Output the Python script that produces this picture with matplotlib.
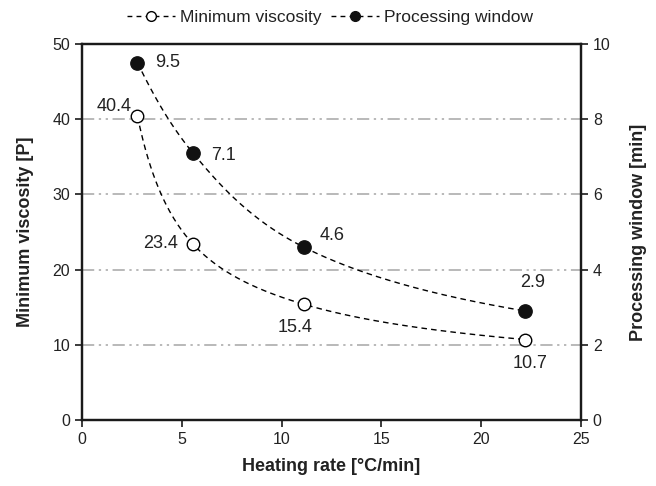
import numpy as np
import matplotlib
matplotlib.use("Agg")
import matplotlib.pyplot as plt
from matplotlib.lines import Line2D

plt.rcParams['font.family'] = ['Liberation Sans', 'DejaVu Sans']

heating_rate = [2.78, 5.56, 11.1, 22.2]
min_viscosity = [40.4, 23.4, 15.4, 10.7]
proc_window = [9.5, 7.1, 4.6, 2.9]
visc_labels = ["40.4", "23.4", "15.4", "10.7"]
window_labels = ["9.5", "7.1", "4.6", "2.9"]


def pchip(x, y, xs):
    """Monotone piecewise cubic Hermite interpolation."""
    x = np.asarray(x, float)
    y = np.asarray(y, float)
    h = np.diff(x)
    d = np.diff(y) / h
    n = len(x)
    m = np.zeros(n)
    for k in range(1, n - 1):
        if d[k - 1] * d[k] > 0:
            w1 = 2 * h[k] + h[k - 1]
            w2 = h[k] + 2 * h[k - 1]
            m[k] = (w1 + w2) / (w1 / d[k - 1] + w2 / d[k])
    m[0] = ((2 * h[0] + h[1]) * d[0] - h[0] * d[1]) / (h[0] + h[1])
    if np.sign(m[0]) != np.sign(d[0]):
        m[0] = 0
    m[-1] = ((2 * h[-1] + h[-2]) * d[-1] - h[-1] * d[-2]) / (h[-1] + h[-2])
    if np.sign(m[-1]) != np.sign(d[-1]):
        m[-1] = 0
    out = np.empty_like(xs)
    for i, xv in enumerate(xs):
        k = min(np.searchsorted(x, xv, side='right') - 1, n - 2)
        k = max(k, 0)
        t = (xv - x[k]) / h[k]
        h00 = 2 * t**3 - 3 * t**2 + 1
        h10 = t**3 - 2 * t**2 + t
        h01 = -2 * t**3 + 3 * t**2
        h11 = t**3 - t**2
        out[i] = h00 * y[k] + h10 * h[k] * m[k] + h01 * y[k + 1] + h11 * h[k] * m[k + 1]
    return out


fig = plt.figure(figsize=(6.56, 4.86), dpi=100)
ax = fig.add_axes([0.125, 0.1358, 0.7607, 0.7737])
ax2 = ax.twinx()

xs = np.linspace(heating_rate[0], heating_rate[-1], 300)
lx = np.log(heating_rate)
visc_curve = np.exp(pchip(lx, np.log(min_viscosity), np.log(xs)))
win_curve = np.exp(pchip(lx, np.log(proc_window), np.log(xs)))

grid_style = dict(color='#a6a6a6', lw=1.1, dashes=(8, 3, 1.5, 3, 1.5, 3))
for yv in [10, 20, 30, 40]:
    ax.axhline(yv, zorder=0, **grid_style)

ax.plot(xs, visc_curve, color='black', lw=1.0, dashes=(4, 3), zorder=2)
ax.plot(heating_rate, min_viscosity, 'o', ms=9, mfc='white', mec='black',
        mew=1.0, zorder=3)
ax2.plot(xs, win_curve, color='black', lw=1.0, dashes=(4, 3), zorder=2)
ax2.plot(heating_rate, proc_window, 'o', ms=9.6, mfc='#111111', mec='#111111',
         zorder=3)

ax.set_xlim(0, 25)
ax.set_ylim(0, 50)
ax2.set_ylim(0, 10)
ax.set_xticks([0, 5, 10, 15, 20, 25])
ax.set_yticks([0, 10, 20, 30, 40, 50])
ax2.set_yticks([0, 2, 4, 6, 8, 10])

for a in (ax, ax2):
    for s in a.spines.values():
        s.set_linewidth(1.6)
        s.set_color('#1a1a1a')
    a.tick_params(direction='out', length=5, width=1.2, labelsize=11.5,
                  colors='#1a1a1a', labelcolor='#222222')

ax.set_xlabel('Heating rate [°C/min]', fontsize=13, fontweight='bold',
              color='#222222', labelpad=8)
ax.set_ylabel('Minimum viscosity [P]', fontsize=13, fontweight='bold',
              color='#222222', labelpad=13)
ax2.set_ylabel('Processing window [min]', fontsize=13, fontweight='bold',
               color='#222222', labelpad=14)

# value labels for minimum viscosity (offsets in pixels)
visc_offsets = [(-6, 10, 'right'), (-15, 1, 'right'),
                (-8.5, -23, 'center'), (5, -24, 'center')]
for x, y, t, (dx, dy, ha) in zip(heating_rate, min_viscosity, visc_labels,
                                 visc_offsets):
    ax.annotate(t, (x, y), xytext=(dx, dy), textcoords='offset pixels',
                ha=ha, va='center', fontsize=13, color='#222222')

# value labels for processing window
win_offsets = [(18, 0, 'left'), (18, -2, 'left'),
               (16, 12, 'left'), (7, 28, 'center')]
for x, y, t, (dx, dy, ha) in zip(heating_rate, proc_window, window_labels,
                                 win_offsets):
    ax2.annotate(t, (x, y), xytext=(dx, dy), textcoords='offset pixels',
                 ha=ha, va='center', fontsize=13, color='#222222')

handles = [
    Line2D([], [], color='black', lw=1.0, dashes=(3.5, 3), marker='o', ms=7,
           mfc='white', mec='black'),
    Line2D([], [], color='black', lw=1.0, dashes=(3.5, 3), marker='o', ms=7,
           mfc='#111111', mec='#111111'),
]
fig.legend(handles, ['Minimum viscosity', 'Processing window'], loc='center',
           bbox_to_anchor=(0.503, 0.965), ncol=2, frameon=False, fontsize=12.5,
           handlelength=2.75, columnspacing=0.55, handletextpad=0.3,
           labelcolor='#222222')

fig.savefig('out.png', dpi=100)
